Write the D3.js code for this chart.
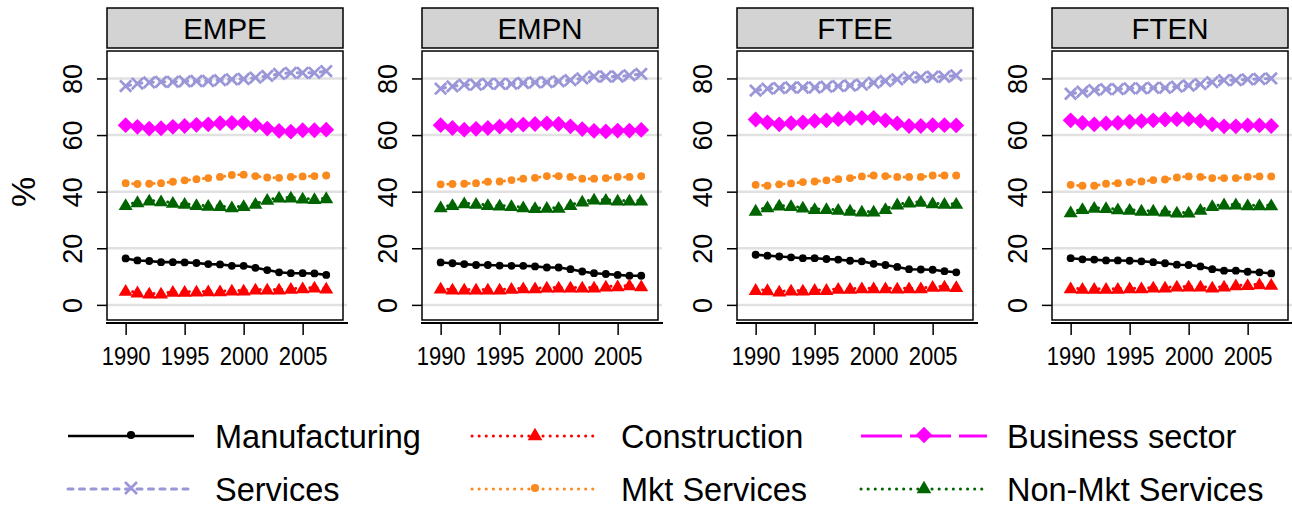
<!DOCTYPE html>
<html><head><meta charset="utf-8">
<script src="https://cdn.jsdelivr.net/npm/d3@7"></script>
<style>
html,body{margin:0;padding:0;background:#fff;}
svg{display:block;font-family:"Liberation Sans",Arial,Helvetica,sans-serif;}
</style></head>
<body>
<svg id="chart" width="1292" height="510"></svg>
<script>
const years = [1990,1991,1992,1993,1994,1995,1996,1997,1998,1999,2000,2001,2002,2003,2004,2005,2006,2007];
const panels = ["EMPE","EMPN","FTEE","FTEN"];
const seriesNames = ["Manufacturing","Construction","Business sector","Services","Mkt Services","Non-Mkt Services"];
const yTicks = [0,20,40,60,80];
const xTicks = [1990,1995,2000,2005];

// EMPE
const empeManufacturing = [16.4,15.7,15.5,15.1,15.1,15.0,14.8,14.4,14.3,13.8,13.8,13.1,12.3,11.5,11.2,11.2,11.1,10.6];
const empeConstruction  = [5.0,4.4,4.0,4.0,4.6,4.6,4.7,4.8,4.8,5.1,5.1,5.4,5.4,5.4,5.7,5.9,6.1,5.8];
const empeBusiness      = [63.5,62.9,62.3,62.4,62.9,63.2,63.6,63.8,64.2,64.3,64.3,63.5,62.3,61.5,61.2,61.7,61.7,61.9];
const empeServices      = [77.3,78.2,78.6,78.8,78.8,79.0,79.1,79.1,79.4,79.7,79.8,80.3,80.9,81.6,82.0,82.0,82.0,82.6];
const empeMkt           = [43.0,42.7,42.8,43.0,43.5,44.0,44.4,44.8,45.2,45.9,46.0,45.5,45.0,44.9,45.2,45.4,45.5,45.7];
const empeNonMkt        = [35.3,36.3,36.9,36.6,36.1,35.7,35.3,35.0,34.9,34.5,34.9,35.7,37.1,37.9,37.9,37.6,37.4,37.7];
// EMPN
const empnManufacturing = [15.0,14.7,14.4,14.1,14.1,13.9,13.8,13.8,13.6,13.2,13.2,12.6,11.8,11.2,10.9,10.6,10.3,10.3];
const empnConstruction  = [5.8,5.4,5.4,5.4,5.4,5.4,5.7,5.9,5.9,6.1,6.1,6.1,6.1,6.1,6.5,6.6,6.9,6.6];
const empnBusiness      = [63.5,62.5,61.9,62.2,62.5,63.0,63.4,63.7,63.9,64.1,63.9,63.1,62.1,61.5,61.3,61.6,61.6,61.8];
const empnServices      = [76.4,77.2,77.8,77.8,78.1,78.1,78.1,78.4,78.6,78.7,79.0,79.4,80.0,80.7,80.7,80.7,81.1,81.6];
const empnMkt           = [42.6,42.7,42.8,43.0,43.5,43.6,44.1,44.6,44.9,45.5,45.5,45.2,44.6,44.6,44.8,45.2,45.2,45.5];
const empnNonMkt        = [34.5,35.3,35.9,35.7,35.3,35.1,34.9,34.5,34.2,34.3,34.3,35.3,36.5,37.2,37.1,36.9,36.9,36.9];
// FTEE
const fteeManufacturing = [17.7,17.4,17.1,16.8,16.5,16.5,16.2,16.0,15.6,15.4,14.5,14.1,13.4,12.6,12.5,12.4,11.9,11.5];
const fteeConstruction  = [5.3,5.2,4.7,5.1,5.1,5.3,5.3,5.7,5.7,5.9,5.9,5.9,5.8,5.9,5.9,6.4,6.5,6.3];
const fteeBusiness      = [65.5,64.5,63.8,64.2,64.5,65.0,65.2,65.6,66.0,66.1,66.1,65.2,64.1,63.2,63.2,63.5,63.5,63.4];
const fteeServices      = [75.7,76.4,76.6,76.8,76.8,76.8,77.1,77.3,77.5,77.8,78.5,79.1,79.7,80.4,80.4,80.6,80.6,81.1];
const fteeMkt           = [42.4,42.1,42.6,42.9,43.4,43.6,44.0,44.4,44.8,45.4,45.7,45.5,45.2,45.2,45.2,45.7,45.7,45.7];
const fteeNonMkt        = [33.3,34.5,35.1,34.9,34.4,33.9,33.9,33.6,33.3,33.0,33.0,33.9,35.5,36.2,36.4,35.9,35.7,35.7];
// FTEN
const ftenManufacturing = [16.5,16.1,16.0,15.7,15.7,15.6,15.4,15.1,14.7,14.2,14.1,13.6,12.6,12.1,12.1,11.7,11.5,11.1];
const ftenConstruction  = [5.9,5.7,5.7,5.7,5.7,5.9,5.9,6.1,6.1,6.5,6.5,6.5,6.1,6.5,6.9,7.0,7.3,7.1];
const ftenBusiness      = [65.2,64.3,63.8,64.1,64.3,64.7,64.9,65.2,65.5,65.6,65.6,65.0,63.8,63.1,63.1,63.4,63.4,63.2];
const ftenServices      = [74.6,75.3,75.9,76.2,76.2,76.5,76.5,76.7,76.7,77.1,77.5,78.0,78.7,79.4,79.4,79.7,79.8,80.0];
const ftenMkt           = [42.4,42.1,42.1,42.8,43.0,43.4,43.6,44.1,44.3,45.0,45.4,45.2,44.8,44.8,44.8,45.2,45.4,45.4];
const ftenNonMkt        = [32.7,33.9,34.3,34.2,33.8,33.6,33.3,33.3,33.0,32.6,32.6,33.6,34.9,35.5,35.5,35.2,35.2,35.2];

const panelData = [
  [empeManufacturing,empeConstruction,empeBusiness,empeServices,empeMkt,empeNonMkt],
  [empnManufacturing,empnConstruction,empnBusiness,empnServices,empnMkt,empnNonMkt],
  [fteeManufacturing,fteeConstruction,fteeBusiness,fteeServices,fteeMkt,fteeNonMkt],
  [ftenManufacturing,ftenConstruction,ftenBusiness,ftenServices,ftenMkt,ftenNonMkt]
];

// styles
const styles = [
  {color:"#000000", dash:null,      width:2.6, cap:"butt",  marker:"circle"},
  {color:"#ff0000", dash:"0.1,7",   width:3,   cap:"round", marker:"triangle"},
  {color:"#ff00ff", dash:"41,8",    width:3,   cap:"butt",  marker:"diamond"},
  {color:"#9a96d8", dash:"5,6.5",   width:3,   cap:"round", marker:"x"},
  {color:"#fa8a1e", dash:"0.1,7",   width:3,   cap:"round", marker:"circle"},
  {color:"#006400", dash:"0.1,7",   width:3,   cap:"round", marker:"triangle"}
];

const FONT = '"Liberation Sans",Arial,Helvetica,sans-serif';
const svg = d3.select("#chart");

const panelLefts = [107, 422, 737, 1052];
const panelW = 236;
const plotTop = 51, plotBottom = 320;
const stripTop = 8, stripH = 40;

const y = d3.scaleLinear().domain([-6.05, 89.7]).range([plotBottom+2, plotTop]);

function markerPath(type, s) {
  s = s || 1;
  if (type === "circle") return d3.symbol().type(d3.symbolCircle).size(48*s*s)();
  if (type === "triangle") { const w=7*s, t=6.8*s, b=5*s; return `M0,${-t}L${w},${b}L${-w},${b}Z`; }
  if (type === "diamond") { const r=7.9*s; return `M0,${-r}L${r},0L0,${r}L${-r},0Z`; }
  if (type === "x") { const r=5.7*s; return `M${-r},${-r}L${r},${r}M${-r},${r}L${r},${-r}`; }
}
function drawMarker(g, type, color, s) {
  const p = g.append("path").attr("d", markerPath(type, s));
  if (type === "x") p.attr("fill","none").attr("stroke",color).attr("stroke-width",2.7);
  else p.attr("fill",color).attr("stroke","none");
  return p;
}

// y title
svg.append("text").attr("transform","translate(35,192) rotate(-90)")
  .attr("text-anchor","middle").attr("font-size",34).attr("font-family",FONT).text("%");

panels.forEach((name, pi) => {
  const left = panelLefts[pi];
  const x = d3.scaleLinear().domain([1988.42, 2008.42]).range([left, left+panelW]);
  const g = svg.append("g");

  // strip
  g.append("rect").attr("x",left).attr("y",stripTop).attr("width",panelW).attr("height",stripH)
    .attr("fill","#d3d3d3").attr("stroke","#000").attr("stroke-width",1.5);
  g.append("text").attr("x",left+panelW/2).attr("y",stripTop+31).attr("text-anchor","middle")
    .attr("font-size",29.5).attr("font-family",FONT).attr("fill","#000").text(name);

  // gridlines
  g.selectAll(".grid").data(yTicks).join("line")
    .attr("x1",left).attr("x2",left+panelW+4)
    .attr("y1",d=>y(d)).attr("y2",d=>y(d))
    .attr("stroke","#e1e1e1").attr("stroke-width",2.5);

  // plot box
  g.append("rect").attr("x",left).attr("y",plotTop).attr("width",panelW).attr("height",plotBottom-plotTop)
    .attr("fill","none").attr("stroke","#000").attr("stroke-width",1.5);

  // y axis
  const ya = g.append("g").attr("transform",`translate(${left},0)`)
    .call(d3.axisLeft(y).tickValues(yTicks).tickSize(10).tickPadding(14).tickFormat(d3.format("d")));
  ya.select(".domain").remove();
  ya.selectAll(".tick line").attr("stroke","#000").attr("stroke-width",1.5);
  ya.selectAll(".tick text").attr("font-size",28.5).attr("font-family",FONT).attr("fill","#000")
    .attr("text-anchor","middle").attr("x",0).attr("dy",0)
    .attr("transform","translate(-25,0) rotate(-90) scale(0.95,1)");

  // x axis
  const xa = g.append("g").attr("transform",`translate(0,${plotBottom+3})`)
    .call(d3.axisBottom(x).tickValues(xTicks).tickSize(12).tickPadding(12).tickFormat(d3.format("d")));
  xa.select(".domain").attr("d",`M${left-1},0H${left+panelW+5}`).attr("stroke","#000").attr("stroke-width",1.8);
  xa.selectAll(".tick line").attr("stroke","#000").attr("stroke-width",1.5);
  xa.selectAll(".tick text").attr("font-size",25).attr("font-family",FONT).attr("fill","#000")
    .attr("transform","scale(0.88,1)").attr("x",0);

  // series
  const line = d3.line().x((d,i)=>x(years[i])).y(d=>y(d));
  panelData[pi].forEach((vals, si) => {
    const st = styles[si];
    const sg = g.append("g");
    sg.append("path").attr("d", line(vals)).attr("fill","none")
      .attr("stroke",st.color).attr("stroke-width",st.width)
      .attr("stroke-dasharray",st.dash).attr("stroke-linecap", st.cap);
    vals.forEach((v,i)=>{
      const mg = sg.append("g").attr("transform",`translate(${x(years[i])},${y(v)})`);
      drawMarker(mg, st.marker, st.color, 1);
    });
  });
});

// legend
const legCols = [68, 472, 861];
const legTextX = [215, 621, 1007];
const legRows = [436, 489];
seriesNames.forEach((nm, si) => {
  const col = si % 3, row = Math.floor(si/3);
  const st = styles[si];
  const x0 = legCols[col], x1 = x0 + 126, yy = legRows[row];
  const lg = svg.append("g");
  lg.append("line").attr("x1",x0).attr("x2",x1).attr("y1",yy).attr("y2",yy)
    .attr("stroke",st.color).attr("stroke-width",st.width)
    .attr("stroke-dasharray",st.dash).attr("stroke-linecap", st.cap);
  const mg = lg.append("g").attr("transform",`translate(${(x0+x1)/2},${yy-1})`);
  drawMarker(mg, st.marker, st.color, 1.05);
  lg.append("text").attr("x",legTextX[col]).attr("y",yy+12).attr("font-size",32.5)
    .attr("font-family",FONT).attr("fill","#000").text(nm);
});
</script>
</body></html>
